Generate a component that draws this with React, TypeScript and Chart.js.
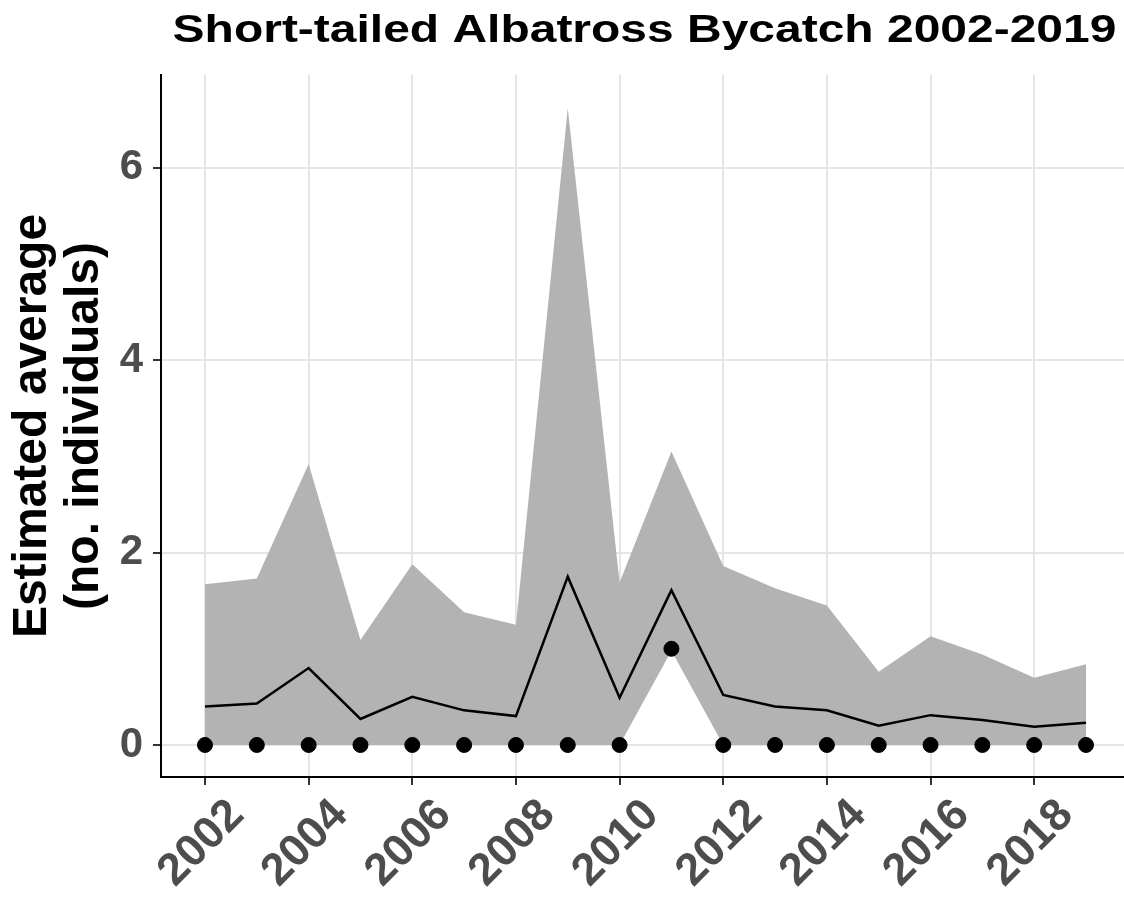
import React, { useEffect, useRef } from "react";
import { Chart, registerables } from "chart.js";

Chart.register(...registerables);

const TITLE = "Short-tailed Albatross Bycatch 2002-2019";
const Y_TITLE = ["Estimated average", "(no. individuals)"];

const years = [2002, 2003, 2004, 2005, 2006, 2007, 2008, 2009, 2010, 2011, 2012, 2013, 2014, 2015, 2016, 2017, 2018, 2019];
const upperCI = [1.67, 1.73, 2.92, 1.09, 1.88, 1.38, 1.25, 6.62, 1.69, 3.05, 1.86, 1.63, 1.45, 0.76, 1.13, 0.94, 0.70, 0.84];
const lowerCI = [0, 0, 0, 0, 0, 0, 0, 0, 0, 0.98, 0, 0, 0, 0, 0, 0, 0, 0];
const estimate = [0.40, 0.43, 0.80, 0.27, 0.50, 0.36, 0.30, 1.75, 0.49, 1.61, 0.52, 0.40, 0.36, 0.20, 0.31, 0.26, 0.19, 0.23];
const observed = [0, 0, 0, 0, 0, 0, 0, 0, 0, 1, 0, 0, 0, 0, 0, 0, 0, 0];

const xTicks = [2002, 2004, 2006, 2008, 2010, 2012, 2014, 2016, 2018];
const yTicks = [0, 2, 4, 6];

const FONT = '"Liberation Sans", Arial, Helvetica, sans-serif';

const toPoints = (vals: number[]) => years.map((x, i) => ({ x, y: vals[i] }));

const titlePlugin = {
  id: "stretchedTitle",
  afterDraw(chart: any) {
    const ctx = chart.ctx;
    const area = chart.chartArea;
    ctx.save();
    ctx.font = `bold 39px ${FONT}`;
    ctx.fillStyle = "#000000";
    ctx.textAlign = "center";
    ctx.textBaseline = "alphabetic";
    ctx.translate((area.left + area.right) / 2 + 2, 42);
    ctx.scale(1.23, 1);
    ctx.fillText(TITLE, 0, 0);
    ctx.restore();
  },
};

export default function App() {
  const ref = useRef<HTMLCanvasElement | null>(null);

  useEffect(() => {
    if (!ref.current) return;
    const chart = new Chart(ref.current, {
      type: "line",
      data: {
        datasets: [
          {
            label: "Observed",
            type: "scatter",
            data: toPoints(observed),
            backgroundColor: "#000000",
            borderColor: "#000000",
            pointRadius: 7.5,
            pointHoverRadius: 7.5,
            showLine: false,
            clip: false,
          },
          {
            label: "Estimate",
            data: toPoints(estimate),
            borderColor: "#000000",
            borderWidth: 2.5,
            pointRadius: 0,
            fill: false,
            tension: 0,
          },
          {
            label: "Upper",
            data: toPoints(upperCI),
            borderWidth: 0,
            borderColor: "rgba(0,0,0,0)",
            backgroundColor: "#b3b3b3",
            pointRadius: 0,
            fill: "+1",
            tension: 0,
          },
          {
            label: "Lower",
            data: toPoints(lowerCI),
            borderWidth: 0,
            borderColor: "rgba(0,0,0,0)",
            pointRadius: 0,
            fill: false,
            tension: 0,
          },
        ],
      },
      options: {
        animation: false,
        responsive: false,
        devicePixelRatio: 1,
        layout: { autoPadding: false, padding: { top: 75, right: 0, bottom: 0, left: 0 } },
        plugins: {
          legend: { display: false },
          tooltip: { enabled: false },
          title: { display: false },
        },
        scales: {
          x: {
            type: "linear",
            min: 2001.151,
            max: 2019.733,
            afterBuildTicks: (scale: any) => {
              scale.ticks = xTicks.map((v) => ({ value: v }));
            },
            afterFit: (scale: any) => {
              scale.height = 121;
              scale.paddingLeft = 0;
              scale.paddingRight = 0;
            },
            ticks: {
              autoSkip: false,
              maxRotation: 45,
              minRotation: 45,
              padding: 4,
              labelOffset: 32,
              color: "#4d4d4d",
              font: { family: FONT, size: 45, weight: "bold" },
              callback: (v: any) => String(v),
            },
            grid: {
              color: "#e5e5e5",
              lineWidth: 2,
              tickColor: "#333333",
              tickLength: 8,
              tickWidth: 2,
            },
            border: { display: true, color: "#000000", width: 2 },
          },
          y: {
            type: "linear",
            min: -0.333,
            max: 6.965,
            afterBuildTicks: (scale: any) => {
              scale.ticks = yTicks.map((v) => ({ value: v }));
            },
            afterFit: (scale: any) => {
              scale.width = 161;
              scale.paddingTop = 0;
              scale.paddingBottom = 0;
            },
            ticks: {
              padding: 10,
              color: "#4d4d4d",
              font: { family: FONT, size: 42, weight: "bold" },
              callback: (v: any) => String(v),
            },
            grid: {
              color: "#e5e5e5",
              lineWidth: 2,
              tickColor: "#333333",
              tickLength: 8,
              tickWidth: 2,
            },
            border: { display: true, color: "#000000", width: 2 },
            title: {
              display: true,
              text: Y_TITLE,
              color: "#000000",
              font: { family: FONT, size: 48, weight: "bold", lineHeight: 1.1 },
              padding: { top: 6, bottom: 0 },
            },
          },
        },
      },
      plugins: [titlePlugin],
    } as any);
    return () => chart.destroy();
  }, []);

  return (
    <div style={{ position: "absolute", left: 0, top: 0, width: 1124, height: 898, background: "#ffffff" }}>
      <canvas ref={ref} width={1124} height={898} style={{ display: "block", width: 1124, height: 898 }} />
    </div>
  );
}
